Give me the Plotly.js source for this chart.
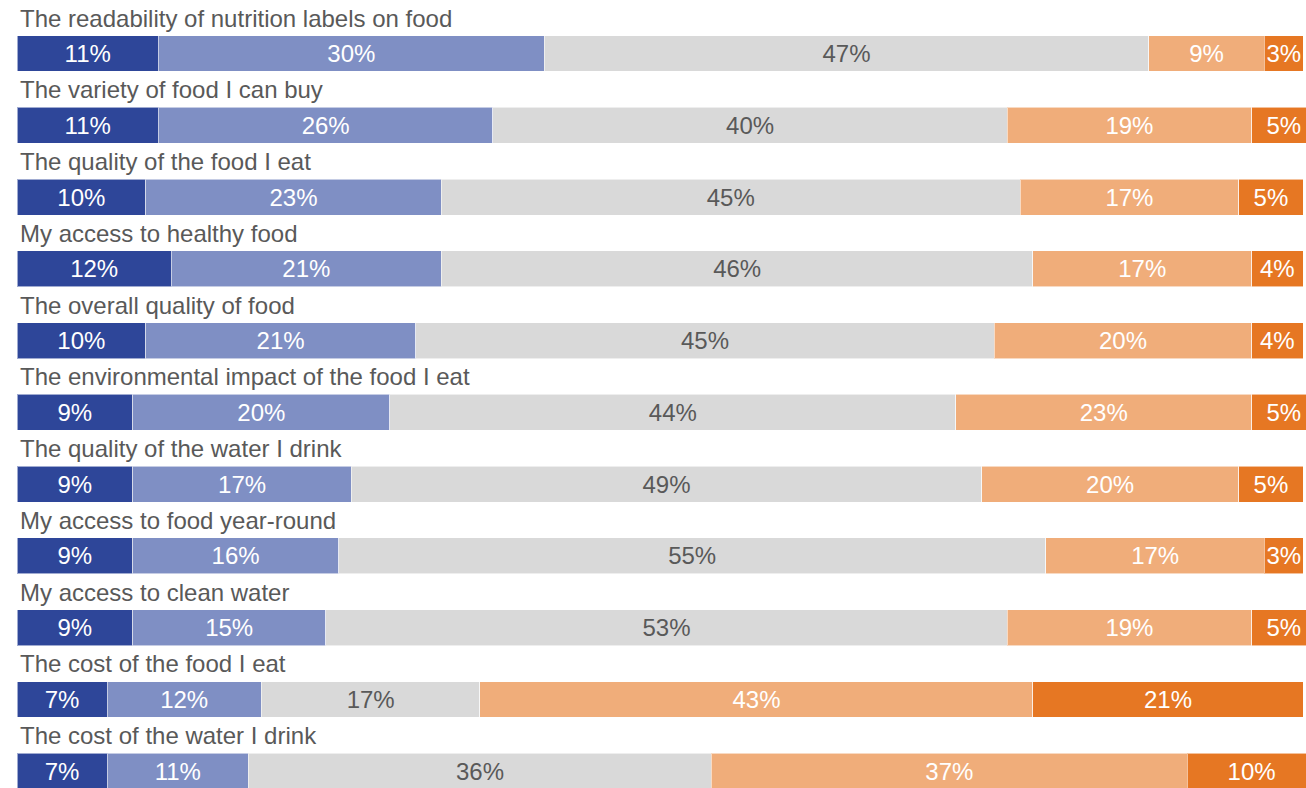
<!DOCTYPE html>
<html>
<head>
<meta charset="utf-8">
<script src="https://cdn.plot.ly/plotly-3.0.1.min.js"></script>
<style>
  html, body { margin: 0; padding: 0; background: #ffffff; }
  #chart { width: 1306px; height: 788px; }
</style>
</head>
<body>
<div id="chart"></div>
<script>
// Satisfaction with food and water topics, share of respondents per answer (%)
const categories = [
  "The readability of nutrition labels on food",
  "The variety of food I can buy",
  "The quality of the food I eat",
  "My access to healthy food",
  "The overall quality of food",
  "The environmental impact of the food I eat",
  "The quality of the water I drink",
  "My access to food year-round",
  "My access to clean water",
  "The cost of the food I eat",
  "The cost of the water I drink"
];

const seriesNames = ["Very satisfied", "Satisfied", "Neutral", "Dissatisfied", "Very dissatisfied"];

const verySatisfied    = [11, 11, 10, 12, 10,  9,  9,  9,  9,  7,  7];
const satisfied        = [30, 26, 23, 21, 21, 20, 17, 16, 15, 12, 11];
const neutral          = [47, 40, 45, 46, 45, 44, 49, 55, 53, 17, 36];
const dissatisfied     = [ 9, 19, 17, 17, 20, 23, 20, 17, 19, 43, 37];
const veryDissatisfied = [ 3,  5,  5,  4,  4,  5,  5,  3,  5, 21, 10];

const seriesValues = [verySatisfied, satisfied, neutral, dissatisfied, veryDissatisfied];
const fillColors = ["#2E4699", "#7F8FC4", "#D9D9D9", "#F0AD7A", "#E67723"];
const textColors = ["#ffffff", "#ffffff", "#595959", "#ffffff", "#ffffff"];

const FONT = "Liberation Sans, Arial, Helvetica, sans-serif";

const traces = seriesValues.map((vals, k) => ({
  type: "bar",
  orientation: "h",
  name: seriesNames[k],
  x: vals,
  y: categories,
  width: 0.5,
  marker: {
    color: fillColors[k],
    line: { color: "rgba(255,255,255,0.55)", width: 1 }
  },
  texttemplate: "%{x}%",
  textposition: "inside",
  insidetextanchor: "middle",
  constraintext: "none",
  textangle: 0,
  textfont: { family: FONT, size: 24, color: textColors[k] },
  hoverinfo: "skip"
}));

// Row titles sit just above each bar
const annotations = categories.map(c => ({
  text: c,
  xref: "paper",
  x: 0,
  xshift: 1,
  xanchor: "left",
  yref: "y",
  y: c,
  yshift: 35.5,
  yanchor: "middle",
  showarrow: false,
  font: { family: FONT, size: 24, color: "#595959" }
}));

const layout = {
  width: 1306,
  height: 788,
  margin: { l: 17, r: 0, t: 0, b: 0, pad: 0 },
  paper_bgcolor: "#ffffff",
  plot_bgcolor: "#ffffff",
  barmode: "stack",
  showlegend: false,
  hovermode: false,
  xaxis: {
    range: [0, 100.23],
    visible: false,
    showgrid: false,
    zeroline: false,
    fixedrange: true
  },
  yaxis: {
    type: "category",
    categoryorder: "array",
    categoryarray: categories,
    range: [10.2334, -0.7456],
    visible: false,
    showgrid: false,
    zeroline: false,
    fixedrange: true
  },
  annotations: annotations,
  font: { family: FONT }
};

Plotly.newPlot("chart", traces, layout, { displayModeBar: false, staticPlot: true });
</script>
</body>
</html>
